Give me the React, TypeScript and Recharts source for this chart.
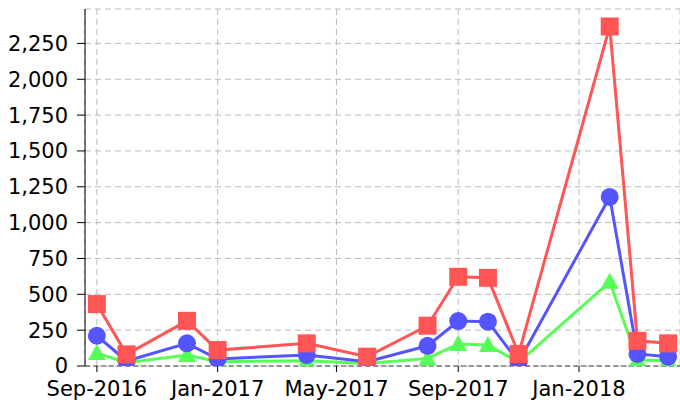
import { LineChart, Line, XAxis, YAxis, CartesianGrid } from 'recharts';

// ---------------------------------------------------------------------------
// Data
// ---------------------------------------------------------------------------

const MONTHS = [
  '2016-09', '2016-10', '2016-12', '2017-01', '2017-04', '2017-06', '2017-08',
  '2017-09', '2017-10', '2017-11', '2018-02', '2018-03', '2018-04',
];

const RED_VALUES = [432, 81, 315, 111, 158, 65, 281, 622, 615, 84, 2368, 176, 158];
const BLUE_VALUES = [211, 35, 158, 49, 77, 30, 141, 313, 309, 28, 1179, 84, 65];
const GREEN_VALUES = [90, 23, 77, 30, 37, 18, 53, 153, 146, 25, 587, 42, 37];

const X_TICKS = ['2016-09', '2017-01', '2017-05', '2017-09', '2018-01'];
const Y_TICKS = [0, 250, 500, 750, 1000, 1250, 1500, 1750, 2000, 2250];

const MONTH_NAMES = ['Jan', 'Feb', 'Mar', 'Apr', 'May', 'Jun', 'Jul', 'Aug', 'Sep', 'Oct', 'Nov', 'Dec'];

// ---------------------------------------------------------------------------
// Helpers
// ---------------------------------------------------------------------------

const DAY = 24 * 60 * 60 * 1000;

function toTime(ym: string): number {
  const [y, m] = ym.split('-').map(Number);
  return Date.UTC(y, m - 1, 1);
}

function formatMonth(ts: number): string {
  const d = new Date(ts);
  return `${MONTH_NAMES[d.getUTCMonth()]}-${d.getUTCFullYear()}`;
}

const COLORS = {
  red: '#ff5555',
  blue: '#5555ff',
  green: '#55ff55',
};

const chartData = MONTHS.map((m, i) => ({
  time: toTime(m),
  red: RED_VALUES[i],
  blue: BLUE_VALUES[i],
  green: GREEN_VALUES[i],
}));

const X_DOMAIN: [number, number] = [toTime('2016-09') - 12 * DAY, toTime('2018-04') + 12 * DAY];

// ---------------------------------------------------------------------------
// Markers
// ---------------------------------------------------------------------------

function SquareDot(props: any) {
  const { cx, cy, index } = props;
  if (cx == null || cy == null) return null;
  return <rect key={`sq-${index}`} x={cx - 9} y={cy - 9} width={18} height={18} fill={COLORS.red} />;
}

function CircleDot(props: any) {
  const { cx, cy, index } = props;
  if (cx == null || cy == null) return null;
  return <circle key={`ci-${index}`} cx={cx} cy={cy} r={9} fill={COLORS.blue} />;
}

function TriangleDot(props: any) {
  const { cx, cy, index } = props;
  if (cx == null || cy == null) return null;
  const pts = `${cx},${cy - 9} ${cx + 9},${cy + 7} ${cx - 9},${cy + 7}`;
  return <polygon key={`tr-${index}`} points={pts} fill={COLORS.green} />;
}

// ---------------------------------------------------------------------------
// Component
// ---------------------------------------------------------------------------

export default function App() {
  const tickStyle = { fill: '#000', fontSize: 21, fontFamily: 'DejaVu Sans' };

  return (
    <div style={{ position: 'absolute', left: 0, top: 0, width: 680, height: 405, background: '#fff' }}>
      <LineChart
        width={680}
        height={405}
        data={chartData}
        margin={{ top: 9, right: 0, bottom: 9, left: 0 }}
      >
        <CartesianGrid stroke="#bbbbbb" strokeDasharray="6 4" strokeWidth={1} />
        <XAxis
          dataKey="time"
          type="number"
          scale="time"
          domain={X_DOMAIN}
          ticks={X_TICKS.map(toTime)}
          tickFormatter={formatMonth}
          tick={tickStyle}
          tickSize={6}
          tickMargin={9}
          height={30}
          axisLine={{ stroke: '#444', strokeDasharray: '5 3' }}
          tickLine={{ stroke: '#000' }}
          allowDataOverflow
        />
        <YAxis
          type="number"
          domain={[0, 2490]}
          ticks={Y_TICKS}
          tickFormatter={(v: number) => v.toLocaleString('en-US')}
          tick={tickStyle}
          tickSize={8}
          tickMargin={9}
          width={85}
          axisLine={{ stroke: '#000' }}
          tickLine={{ stroke: '#000' }}
          allowDataOverflow
        />
        <Line
          dataKey="green"
          stroke={COLORS.green}
          strokeWidth={3}
          dot={<TriangleDot />}
          activeDot={false}
          isAnimationActive={false}
        />
        <Line
          dataKey="blue"
          stroke={COLORS.blue}
          strokeWidth={3}
          dot={<CircleDot />}
          activeDot={false}
          isAnimationActive={false}
        />
        <Line
          dataKey="red"
          stroke={COLORS.red}
          strokeWidth={3}
          dot={<SquareDot />}
          activeDot={false}
          isAnimationActive={false}
        />
      </LineChart>
    </div>
  );
}
